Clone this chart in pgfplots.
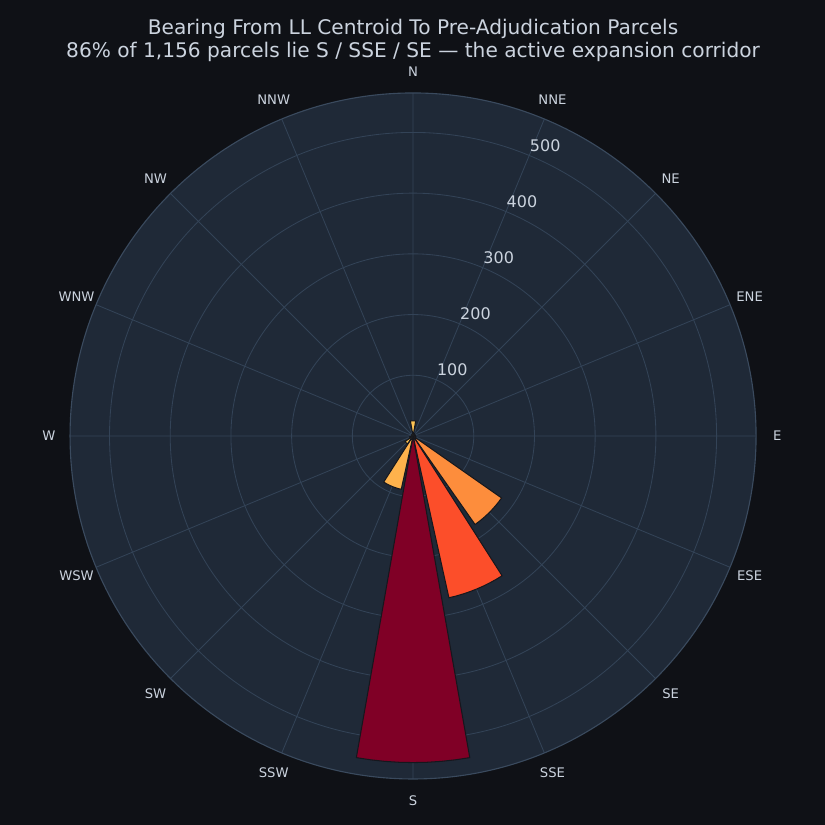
\documentclass[border=0pt]{standalone}
\usepackage{fontspec}
\setmainfont{DejaVu Sans}
\usepackage{pgfplots}
\pgfplotsset{compat=1.18}
\usepgfplotslibrary{polar}
\definecolor{figbg}{HTML}{0F1116}
\definecolor{polbg}{HTML}{1F2937}
\definecolor{gridc}{HTML}{334357}
\definecolor{rimc}{HTML}{3A4A5E}
\definecolor{txtc}{HTML}{CBD3DE}
\definecolor{petaledge}{HTML}{15171D}
\definecolor{cS}{HTML}{800026}
\definecolor{cSSE}{HTML}{FC4E2A}
\definecolor{cSE}{HTML}{FD8D3C}
\definecolor{cSSW}{HTML}{FEB24C}
\definecolor{cN}{HTML}{FEC454}
\definecolor{cLow}{HTML}{FED36A}
% #1 = math angle of the bearing (90 - bearing), #2 = parcel count, #3 = colour
\newcommand{\petal}[3]{%
  \pgfmathsetmacro\aA{#1-10}\pgfmathsetmacro\aB{#1-7.5}\pgfmathsetmacro\aC{#1-5}%
  \pgfmathsetmacro\aD{#1-2.5}\pgfmathsetmacro\aE{#1}\pgfmathsetmacro\aF{#1+2.5}%
  \pgfmathsetmacro\aG{#1+5}\pgfmathsetmacro\aH{#1+7.5}\pgfmathsetmacro\aI{#1+10}%
  \addplot[fill=#3, draw=petaledge, line width=0.75pt, line join=round]
    coordinates {(\aA,0) (\aA,#2) (\aB,#2) (\aC,#2) (\aD,#2) (\aE,#2) (\aF,#2) (\aG,#2) (\aH,#2) (\aI,#2) (\aI,0)} -- cycle;
}
\newcommand{\clab}[2]{\node[font=\fontsize{9.5}{11}\selectfont, text=txtc, anchor=center] at (axis cs:#1,600) {#2};}
\newcommand{\rlab}[1]{\node[font=\fontsize{11.5}{13}\selectfont, text=txtc, anchor=center, xshift=11.5pt, yshift=7.2pt] at (axis cs:67.5,#1) {#1};}
\begin{document}
\begin{tikzpicture}
\fill[figbg] (0,0) rectangle (594pt,594pt);
\fill[polbg] (297.4pt,280.1pt) circle (246.96pt);
\node[font=\fontsize{14.5}{17}\selectfont, text=txtc] at (297.4pt,572.8pt) {Bearing From LL Centroid To Pre-Adjudication Parcels};
\node[font=\fontsize{14.5}{17}\selectfont, text=txtc] at (297.4pt,556.8pt) {86\% of 1,156 parcels lie S / SSE / SE — the active expansion corridor};
\begin{polaraxis}[
  at={(297.4pt,280.1pt)}, anchor=center,
  scale only axis, width=493.92pt, height=493.92pt,
  xmin=0, xmax=360, ymin=0, ymax=565,
  xtick={0,22.5,...,337.5}, xticklabels={},
  ytick={100,200,300,400,500}, yticklabels={},
  grid=major,
  major grid style={color=gridc, line width=0.6pt},
  x axis line style={color=rimc, line width=0.8pt},
  y axis line style={draw=none},
  major tick length=0pt,
  clip=false,
]
% bearing: N NNE NE ENE E ESE SE SSE S SSW SW WSW W WNW NW NNW
\petal{90}{25}{cN}
\petal{67.5}{5}{cLow}
\petal{45}{4}{cLow}
\petal{22.5}{3}{cLow}
\petal{0}{4}{cLow}
\petal{-22.5}{5}{cLow}
\petal{-45}{178}{cSE}
\petal{-67.5}{273}{cSSE}
\petal{-90}{538}{cS}
\petal{-112.5}{90}{cSSW}
\petal{-135}{16}{cN}
\petal{-157.5}{6}{cLow}
\petal{-180}{3}{cLow}
\petal{-202.5}{2}{cLow}
\petal{-225}{3}{cLow}
\petal{-247.5}{1}{cLow}
% compass labels
\clab{90}{N}\clab{67.5}{NNE}\clab{45}{NE}\clab{22.5}{ENE}
\clab{0}{E}\clab{-22.5}{ESE}\clab{-45}{SE}\clab{-67.5}{SSE}
\clab{-90}{S}\clab{-112.5}{SSW}\clab{-135}{SW}\clab{-157.5}{WSW}
\clab{-180}{W}\clab{-202.5}{WNW}\clab{-225}{NW}\clab{-247.5}{NNW}
% radial labels
\rlab{100}\rlab{200}\rlab{300}\rlab{400}\rlab{500}
\end{polaraxis}
\pgfresetboundingbox
\useasboundingbox (0,0) rectangle (594pt,594pt);
\end{tikzpicture}
\end{document}
